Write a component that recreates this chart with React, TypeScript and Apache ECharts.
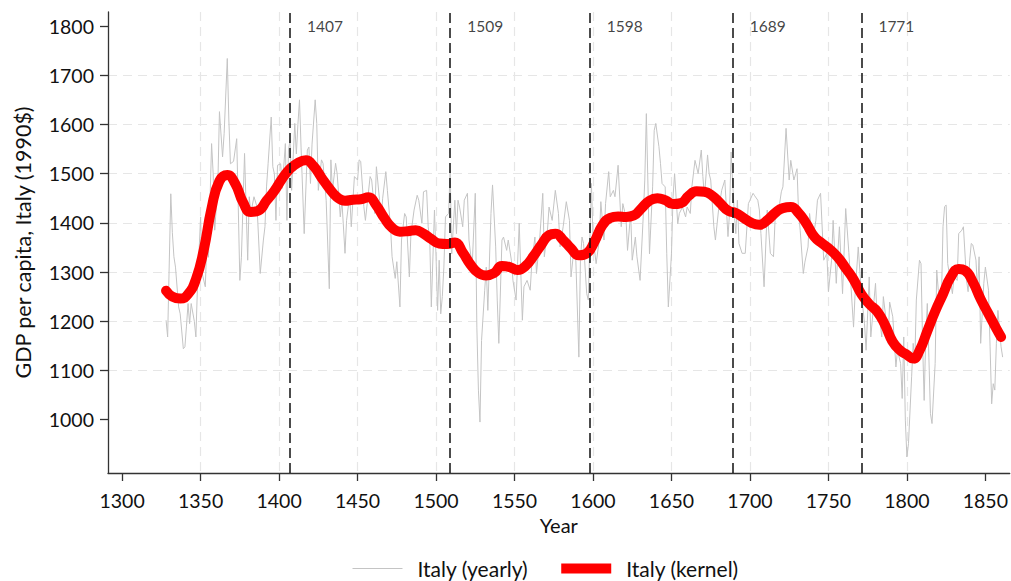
import React, { useEffect, useRef } from 'react';
import * as echarts from 'echarts';

// Yearly GDP per capita readings [year, value]
const yearly1300s: [number, number][] = [
  [1328,1202],[1329,1168],[1331,1459],[1332,1380],[1333,1331],[1334,1310],[1336,1229],[1337,1215],[1339,1144],[1340,1148],
  [1341,1190],[1342,1236],[1343,1195],[1344,1236],[1346,1200],[1347,1168],[1348,1270],[1350,1412],[1351,1297],[1353,1270],
  [1354,1365],[1355,1330],[1357,1561],[1358,1500],[1359,1385],[1361,1480],[1362,1626],[1364,1534],[1365,1582],[1367,1734],
  [1368,1609],[1369,1520],[1371,1525],[1373,1571],[1374,1432],[1375,1283],[1376,1330],[1378,1541],[1379,1432],[1380,1324],
  [1381,1453],[1382,1420],[1384,1453],[1386,1432],[1388,1297],[1390,1365],[1391,1392],[1392,1473],[1393,1520],[1395,1615],
  [1396,1514],[1397,1500],[1398,1405],[1399,1517]
];
const yearly1400s: [number, number][] = [
  [1401,1520],[1402,1470],[1404,1561],[1405,1405],[1406,1548],[1407,1568],[1408,1466],[1410,1602],[1411,1540],[1412,1600],
  [1413,1650],[1414,1554],[1416,1378],[1418,1548],[1419,1554],[1420,1480],[1421,1560],[1423,1650],[1424,1602],[1425,1466],
  [1427,1528],[1428,1521],[1430,1446],[1432,1266],[1433,1528],[1434,1466],[1436,1521],[1437,1500],[1439,1412],[1440,1446],
  [1442,1338],[1443,1405],[1445,1456],[1446,1392],[1448,1494],[1450,1487],[1451,1528],[1452,1525],[1454,1433],[1455,1405],
  [1458,1494],[1459,1487],[1461,1419],[1462,1514],[1464,1446],[1465,1405],[1466,1450],[1468,1504],[1469,1466],[1471,1392],
  [1472,1331],[1474,1287],[1475,1321],[1477,1229],[1478,1365],[1480,1419],[1481,1412],[1483,1290],[1484,1378],[1486,1426],
  [1488,1456],[1489,1446],[1491,1399],[1492,1463],[1494,1466],[1495,1392],[1496,1365],[1497,1229],[1499,1426]
];
const yearly1500s: [number, number][] = [
  [1500,1331],[1501,1222],[1502,1324],[1503,1215],[1504,1250],[1505,1310],[1506,1412],[1508,1419],[1509,1507],[1510,1337],
  [1512,1446],[1513,1378],[1514,1446],[1515,1432],[1517,1392],[1518,1446],[1520,1460],[1521,1365],[1523,1310],[1525,1460],
  [1526,1188],[1527,1060],[1528,995],[1529,1161],[1531,1263],[1532,1310],[1533,1222],[1535,1419],[1536,1477],[1538,1351],
  [1539,1243],[1540,1155],[1542,1365],[1543,1371],[1545,1344],[1546,1365],[1548,1324],[1549,1283],[1551,1243],[1553,1399],
  [1555,1202],[1556,1270],[1558,1283],[1560,1263],[1561,1317],[1563,1371],[1564,1297],[1566,1365],[1568,1460],[1569,1331],
  [1571,1385],[1572,1432],[1574,1405],[1576,1466],[1578,1419],[1579,1351],[1581,1392],[1583,1443],[1585,1405],[1586,1290],
  [1588,1351],[1589,1331],[1591,1127],[1592,1324],[1593,1371],[1594,1358],[1596,1256],[1597,1243],[1599,1480]
];
const yearly1600s: [number, number][] = [
  [1600,1371],[1602,1317],[1604,1365],[1605,1443],[1607,1365],[1608,1439],[1610,1504],[1611,1453],[1613,1466],[1614,1453],
  [1616,1517],[1618,1392],[1619,1439],[1621,1412],[1622,1344],[1624,1419],[1625,1324],[1627,1371],[1628,1331],[1630,1283],
  [1632,1412],[1633,1487],[1634,1622],[1636,1337],[1638,1473],[1639,1588],[1640,1602],[1642,1555],[1643,1521],[1644,1480],
  [1646,1473],[1647,1337],[1648,1229],[1650,1337],[1651,1453],[1652,1500],[1654,1398],[1655,1419],[1657,1432],[1659,1412],
  [1660,1432],[1662,1419],[1663,1473],[1665,1527],[1667,1500],[1669,1548],[1670,1494],[1671,1453],[1673,1538],[1674,1500],
  [1675,1487],[1677,1392],[1678,1365],[1680,1426],[1682,1466],[1684,1487],[1686,1372],[1687,1420],[1688,1544],[1690,1419],
  [1691,1378],[1692,1446],[1693,1358],[1695,1338],[1697,1338],[1699,1439]
];
const yearly1700s: [number, number][] = [
  [1700,1446],[1702,1460],[1703,1455],[1705,1446],[1706,1426],[1707,1378],[1709,1270],[1711,1426],[1713,1338],[1715,1331],
  [1716,1405],[1718,1419],[1720,1463],[1721,1473],[1723,1592],[1725,1487],[1726,1527],[1728,1487],[1730,1510],[1731,1419],
  [1732,1385],[1734,1297],[1735,1320],[1737,1351],[1738,1419],[1740,1365],[1742,1405],[1743,1446],[1745,1460],[1747,1324],
  [1749,1338],[1750,1260],[1752,1324],[1753,1405],[1755,1277],[1756,1338],[1757,1392],[1759,1256],[1761,1429],[1763,1340],
  [1764,1290],[1766,1188],[1767,1256],[1769,1351],[1771,1256],[1773,1195],[1774,1141],[1776,1290],[1777,1168],[1780,1277],
  [1781,1209],[1782,1222],[1784,1168],[1785,1250],[1787,1195],[1788,1155],[1789,1239],[1791,1209],[1793,1107],[1794,1141],
  [1796,1114],[1797,1043],[1798,1168],[1799,999]
];
const yearly1800s: [number, number][] = [
  [1800,924],[1801,951],[1803,1087],[1804,1155],[1805,1114],[1806,1243],[1808,1324],[1809,1317],[1810,1155],[1811,1039],
  [1812,1168],[1813,1236],[1814,1127],[1815,1012],[1816,992],[1818,1114],[1819,1304],[1820,1263],[1822,1243],[1823,1392],
  [1824,1433],[1825,1436],[1826,1317],[1828,1277],[1829,1256],[1830,1290],[1832,1283],[1833,1378],[1835,1385],[1836,1392],
  [1838,1283],[1839,1260],[1840,1324],[1841,1358],[1842,1355],[1844,1324],[1845,1263],[1846,1331],[1847,1155],[1849,1277],
  [1850,1310],[1852,1263],[1853,1148],[1854,1032],[1855,1073],[1856,1060],[1857,1155],[1858,1222],[1860,1148],[1861,1127]
];

// Kernel-smoothed series
const kernelYears = [
  1328,1332,1337,1342,1347,1352,1357,1362,1367,1372,1377,1382,1387,1392,1397,1402,1407,1412,1417,1422,
  1427,1432,1437,1442,1447,1452,1457,1462,1467,1472,1477,1482,1487,1492,1497,1502,1507,1512,1517,1522,
  1527,1532,1537,1542,1547,1552,1557,1562,1567,1572,1576,1581,1586,1591,1596,1601,1606,1611,1616,1621,
  1626,1631,1636,1641,1646,1651,1656,1661,1666,1671,1676,1681,1686,1691,1696,1701,1706,1711,1716,1721,
  1726,1731,1736,1741,1746,1751,1756,1761,1766,1771,1776,1781,1786,1791,1796,1800,1804,1808,1813,1818,
  1823,1828,1833,1837,1842,1847,1852,1857,1860
];
const kernelValues = [
  1262,1250,1246,1255,1285,1345,1430,1485,1497,1480,1442,1422,1425,1445,1465,1490,1510,1522,1527,1515,
  1492,1470,1452,1445,1447,1448,1452,1435,1410,1390,1382,1383,1385,1378,1367,1358,1357,1360,1340,1315,
  1298,1293,1298,1312,1310,1304,1312,1332,1355,1375,1378,1365,1348,1334,1338,1362,1395,1410,1413,1412,
  1415,1430,1445,1450,1446,1438,1440,1455,1464,1463,1455,1440,1425,1420,1410,1400,1396,1405,1420,1430,
  1432,1420,1398,1372,1358,1346,1330,1308,1285,1255,1235,1220,1193,1158,1140,1132,1124,1140,1180,1220,
  1255,1290,1306,1303,1280,1245,1215,1185,1168
];

const breakYears = [1407, 1509, 1598, 1689, 1771];
const xTickValues = [1300, 1350, 1400, 1450, 1500, 1550, 1600, 1650, 1700, 1750, 1800, 1850];
const yTickValues = [1000, 1100, 1200, 1300, 1400, 1500, 1600, 1700, 1800];

export default function App() {
  const ref = useRef<HTMLDivElement>(null);
  useEffect(() => {
    document.body.style.margin = '0';
    const chart = echarts.init(ref.current!, null, { renderer: 'svg' });
    const font = 'Lato';
    const textColor = '#111';
    const axisColor = '#333';
    const yearly = [...yearly1300s, ...yearly1400s, ...yearly1500s, ...yearly1600s, ...yearly1700s, ...yearly1800s];
    const kernel = kernelYears.map((y, i) => [y, kernelValues[i]]);
    const plain = (v: number) => String(v);
    chart.setOption({
      animation: false,
      grid: { left: 108, right: 0, top: 12, bottom: 108 },
      xAxis: {
        type: 'value',
        min: 1291,
        max: 1865.5,
        minInterval: 50,
        maxInterval: 50,
        name: 'Year',
        nameLocation: 'middle',
        nameGap: 40,
        nameTextStyle: { fontFamily: font, fontSize: 20, color: textColor },
        axisLine: { show: true, onZero: false, lineStyle: { color: axisColor, width: 1.3 } },
        axisTick: { show: true, length: 8, customValues: xTickValues, lineStyle: { color: axisColor, width: 1.3 } },
        axisLabel: { customValues: xTickValues, formatter: plain, margin: 17, fontFamily: font, fontSize: 19.5, color: textColor },
        splitLine: { show: true, showMinLine: false, showMaxLine: false, lineStyle: { color: '#e6e6e6', type: [9, 6], width: 1.2 } },
      },
      yAxis: {
        type: 'value',
        min: 891.5,
        max: 1828.5,
        minInterval: 100,
        maxInterval: 100,
        name: 'GDP per capita, Italy (1990$)',
        nameLocation: 'middle',
        nameGap: 74,
        nameTextStyle: { fontFamily: font, fontSize: 21.5, color: textColor },
        axisLine: { show: true, onZero: false, lineStyle: { color: axisColor, width: 1.3 } },
        axisTick: { show: true, length: 8, customValues: yTickValues, lineStyle: { color: axisColor, width: 1.3 } },
        axisLabel: { customValues: yTickValues, formatter: plain, margin: 14, fontFamily: font, fontSize: 19.5, color: textColor },
        splitLine: { show: true, showMinLine: false, showMaxLine: false, lineStyle: { color: '#e6e6e6', type: [9, 6], width: 1.2 } },
      },
      legend: {
        left: 347,
        top: 553,
        itemWidth: 50,
        itemHeight: 12,
        itemGap: 28,
        textStyle: { fontFamily: font, fontSize: 21, color: textColor, padding: [0, 0, 0, 10] },
        data: [
          { name: 'Italy (yearly)', itemStyle: { opacity: 0 }, lineStyle: { width: 1, cap: 'butt' } },
          { name: 'Italy (kernel)', itemStyle: { opacity: 0 }, lineStyle: { width: 10, cap: 'butt' } },
        ],
      },
      series: [
        {
          name: 'Italy (yearly)',
          type: 'line',
          data: yearly,
          symbol: 'none',
          z: 2,
          lineStyle: { color: '#c4c4c4', width: 1 },
          itemStyle: { color: '#c4c4c4' },
          markLine: {
            silent: true,
            symbol: ['none', 'none'],
            label: { show: false },
            lineStyle: { color: '#111', type: [10, 5], width: 1.5 },
            data: breakYears.map((y) => ({ xAxis: y })),
          },
        },
        {
          name: 'Italy (kernel)',
          type: 'line',
          data: kernel,
          symbol: 'none',
          smooth: 0.5,
          z: 3,
          lineStyle: { color: '#ff0000', width: 10, cap: 'round', join: 'round' },
          itemStyle: { color: '#ff0000' },
        },
        {
          name: 'breaks',
          type: 'scatter',
          data: breakYears.map((y) => [y, 1800]),
          symbolSize: 0,
          silent: true,
          z: 4,
          itemStyle: { color: 'transparent' },
          label: {
            show: true,
            position: 'right',
            distance: 17,
            formatter: (p: any) => String(p.value[0]),
            fontFamily: font,
            fontSize: 15.5,
            color: textColor,
          },
        },
      ],
    });
    return () => chart.dispose();
  }, []);
  return <div ref={ref} style={{ width: 1011, height: 581 }} />;
}
